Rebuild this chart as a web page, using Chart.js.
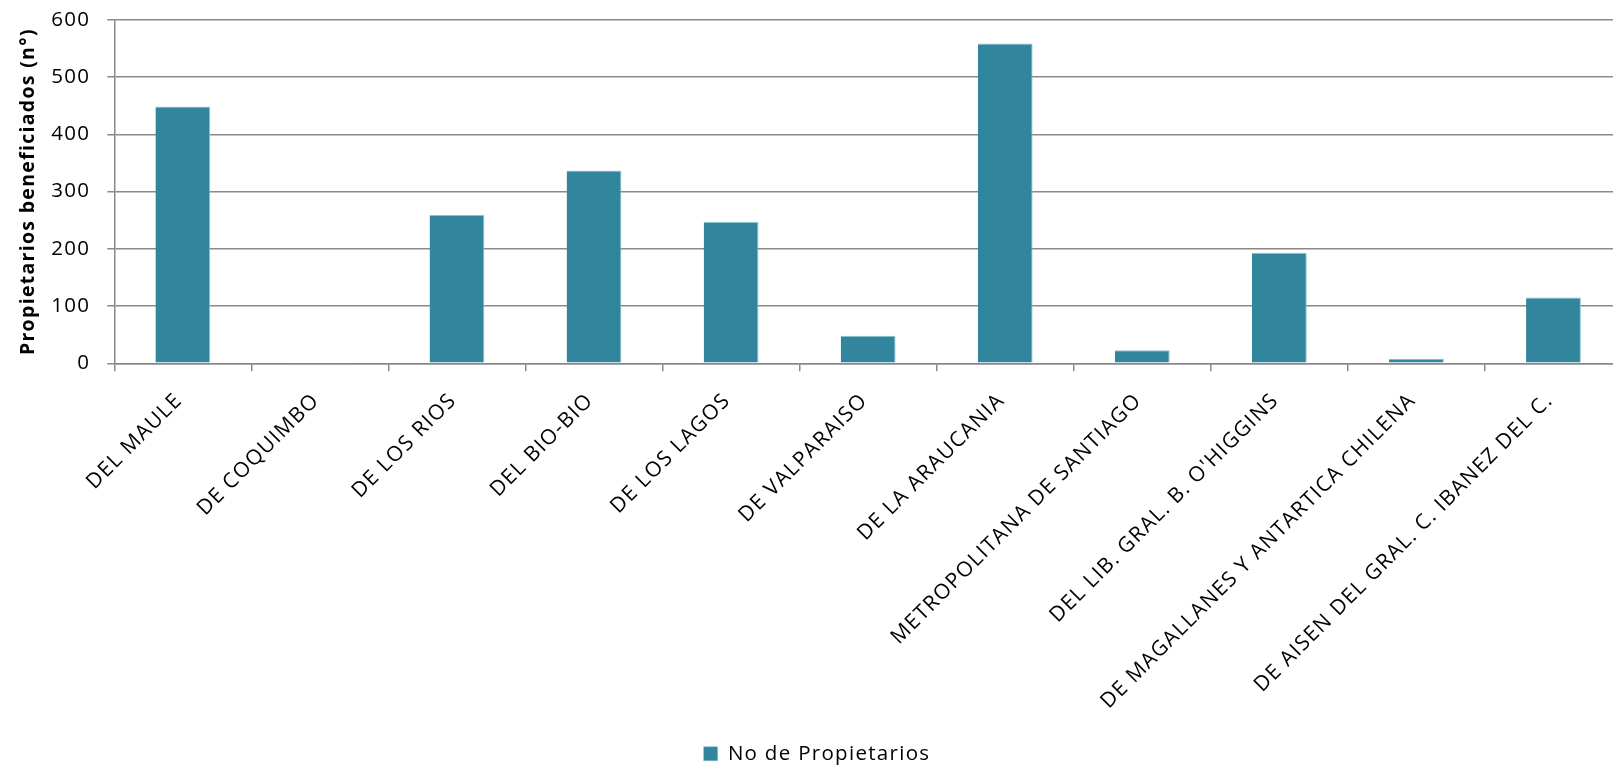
<!DOCTYPE html>
<html>
<head>
<meta charset="utf-8">
<script src="https://cdn.jsdelivr.net/npm/chart.js@4/dist/chart.umd.min.js"></script>
<style>
  html, body { margin: 0; padding: 0; background: #fff; overflow: hidden; }
  #wrap { width: 1630px; height: 766px; position: relative; }
</style>
</head>
<body>
<div id="wrap"><canvas id="c" width="1630" height="766"></canvas></div>
<script>
const categories = [
  "DEL MAULE",
  "DE COQUIMBO",
  "DE LOS RIOS",
  "DEL BIO-BIO",
  "DE LOS LAGOS",
  "DE VALPARAISO",
  "DE LA ARAUCANIA",
  "METROPOLITANA DE SANTIAGO",
  "DEL LIB. GRAL. B. O'HIGGINS",
  "DE MAGALLANES Y ANTARTICA CHILENA",
  "DE AISEN DEL GRAL. C. IBANEZ DEL C."
];
const propietarios = [449, 1, 259, 337, 247, 48, 559, 23, 193, 8, 115];
const yTicks = [0, 100, 200, 300, 400, 500, 600];
const seriesName = "No de Propietarios";
const yTitle = "Propietarios beneficiados (n°)";

const FONT = "'Open Sans', 'DejaVu Sans', sans-serif";
const SPACING = '1.3px';
const target = { left: 114.3, top: 20, right: 1622, bottom: 363.3 };
const PAD_LEFT = 12;
let xAxisH = 300;
let yAxisW = target.left - PAD_LEFT;

const spacingPlugin = {
  id: 'spacing',
  beforeLayout(chart) { chart.ctx.letterSpacing = SPACING; },
  beforeDraw(chart) { chart.ctx.letterSpacing = SPACING; }
};

const chart = new Chart(document.getElementById('c'), {
  type: 'bar',
  plugins: [spacingPlugin],
  data: {
    labels: categories,
    datasets: [{
      label: seriesName,
      data: propietarios,
      backgroundColor: '#31859C',
      borderColor: '#8cc3d2',
      borderWidth: { top: 1, right: 1, left: 0, bottom: 0 },
      borderSkipped: false,
      barPercentage: 0.4,
      categoryPercentage: 1.0
    }]
  },
  options: {
    responsive: false,
    animation: false,
    devicePixelRatio: 1,
    layout: { padding: { top: 20, right: 8, left: PAD_LEFT, bottom: -8 } },
    plugins: {
      tooltip: { enabled: false },
      legend: {
        position: 'bottom',
        labels: {
          boxWidth: 14,
          boxHeight: 14,
          padding: 6,
          color: '#000',
          font: { family: FONT, size: 20.5 }
        }
      }
    },
    scales: {
      x: {
        grid: {
          offset: true,
          drawOnChartArea: false,
          drawTicks: true,
          tickLength: 8,
          color: '#898989',
          lineWidth: 1.5
        },
        border: { display: true, color: '#898989', width: 1.5 },
        ticks: {
          minRotation: 45,
          maxRotation: 45,
          autoSkip: false,
          padding: 17,
          labelOffset: -4,
          color: '#000',
          font: { family: FONT, size: 21 }
        },
        afterFit: (s) => { s.height = xAxisH; }
      },
      y: {
        min: 0,
        max: 600,
        afterBuildTicks: (s) => { s.ticks = yTicks.map(v => ({ value: v })); },
        grid: {
          drawTicks: true,
          tickLength: 7,
          color: '#898989',
          lineWidth: 1.5
        },
        border: { display: true, color: '#898989', width: 1.5 },
        ticks: {
          padding: 17,
          color: '#000',
          font: { family: FONT, size: 20.5 }
        },
        title: {
          display: true,
          text: yTitle,
          color: '#000',
          padding: { top: 5, bottom: 0 },
          font: { family: FONT, size: 19.5, weight: 'bold' }
        },
        afterFit: (s) => { s.width = yAxisW; s.paddingTop = 0; s.paddingBottom = 0; }
      }
    }
  }
});

// adjust layout so the plot area lands where the reference has it
for (let i = 0; i < 4; i++) {
  const a = chart.chartArea;
  xAxisH += a.bottom - target.bottom;
  chart.options.layout.padding.right += a.right - target.right;
  chart.options.layout.padding.top -= a.top - target.top;
  chart.update('none');
}
</script>
</body>
</html>
